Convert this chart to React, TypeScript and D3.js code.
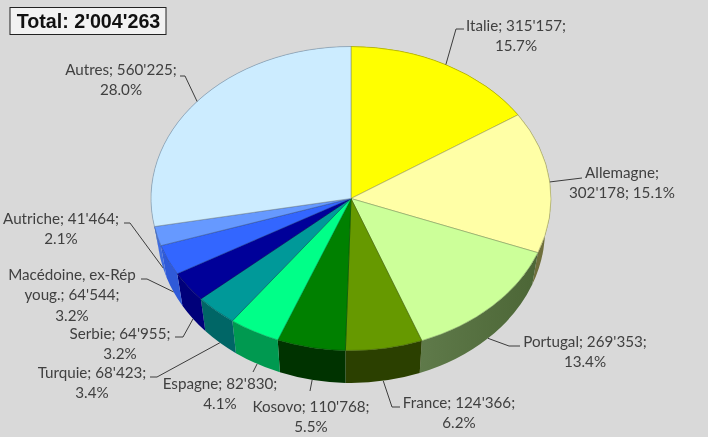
import * as d3 from 'd3';

const countries = ['Italie', 'Allemagne', 'Portugal', 'France', 'Kosovo', 'Espagne', 'Turquie', 'Serbie', 'Macédoine, ex-Rép youg.', 'Autriche', 'Autres'];
const residents = [315157, 302178, 269353, 124366, 110768, 82830, 68423, 64955, 64544, 41464, 560225];
const topColors = ['#ffff00', '#ffffa6', '#ccff99', '#669900', '#008000', '#00ff88', '#009999', '#000099', '#3366ff', '#6699ff', '#ccecff'];
const sideColors = ['#8a8a00', '#6f6f3c', '#55703f', '#2b4000', '#003300', '#009950', '#006666', '#00007a', '#2f5ad8', '#3f6ce0', '#5c7fc0'];
const totalLabel = "Total: 2'004'263";

// line breaks of each data label, as Excel wrapped them
const labelLines = [
  ["Italie; 315'157;", '15.7%'],
  ['Allemagne;', "302'178; 15.1%"],
  ["Portugal; 269'353;", '13.4%'],
  ["France; 124'366;", '6.2%'],
  ["Kosovo; 110'768;", '5.5%'],
  ["Espagne; 82'830;", '4.1%'],
  ["Turquie; 68'423;", '3.4%'],
  ["Serbie; 64'955;", '3.2%'],
  ['Macédoine, ex-Rép', "youg.; 64'544;", '3.2%'],
  ["Autriche; 41'464;", '2.1%'],
  ["Autres; 560'225;", '28.0%'],
];
// label centre x, first baseline y
const labelSpots = [[516, 31], [622, 178], [585, 347], [459, 408], [311, 412], [220, 389], [92, 378], [120, 339], [72, 280], [61, 224], [121, 75]];
// elbow of the leader line and where it ends next to the text
const leaderBends = [[[456, 29], [464, 29]], [[582, 178]], [[509, 346], [520, 346]], [[392, 407], [400, 407]], [[310, 391]], [[253, 372]], [[157, 377], [150, 377]], [[183, 337], [175, 337]], [[147, 279], [141, 279]], [[130, 223], [124, 223]], [[185, 76], [180, 76]]];

const cx = 351;
const cy = 198.5;
const rx = 200;
const ry = 152;
// the bottom ellipse is a bit narrower, the chart has perspective
const bottomCy = 230;
const bottomRx = 194;
const bottomRy = 153;

export default function App() {
  const slices = d3.pie<number>().sort(null).value((d) => d)(residents);
  const ex = (a: number) => cx + rx * Math.sin(a);
  const ey = (a: number) => cy - ry * Math.cos(a);
  const bx = (a: number) => cx + bottomRx * Math.sin(a);
  const by = (a: number) => bottomCy - bottomRy * Math.cos(a);
  const arc = d3.arc<d3.PieArcDatum<number>>().innerRadius(0).outerRadius(rx);

  // whole rim gets drawn, the top face hides the part that should not show
  const sidePath = (s: d3.PieArcDatum<number>) => {
    const a0 = s.startAngle;
    const a1 = s.endAngle;
    return `M${ex(a0)},${ey(a0)}A${rx},${ry} 0 0 1 ${ex(a1)},${ey(a1)}L${bx(a1)},${by(a1)}A${bottomRx},${bottomRy} 0 0 0 ${bx(a0)},${by(a0)}Z`;
  };

  const leaderPoints = (s: d3.PieArcDatum<number>, i: number) => {
    const mid = (s.startAngle + s.endAngle) / 2;
    const onFront = by(mid) > ey(mid) && Math.abs(mid - Math.PI) < Math.PI / 2.2;
    const start = onFront ? [bx(mid), by(mid)] : [ex(mid), ey(mid)];
    return [start, ...leaderBends[i]].map((p) => p.join(',')).join(' ');
  };

  return (
    <svg
      width={708}
      height={437}
      style={{ position: 'absolute', left: 0, top: 0, background: '#d9d9d9', filter: 'blur(0.35px)' }}
    >
      <defs>
        <linearGradient id="portugal-side" x1="0" x2="1" y1="0" y2="0">
          <stop offset="0" stopColor="#5f7a4a" />
          <stop offset="1" stopColor="#4c6636" />
        </linearGradient>
      </defs>

      {slices.map((s, i) => (
        <path key={i} d={sidePath(s)} fill={i === 2 ? 'url(#portugal-side)' : sideColors[i]} />
      ))}

      <g transform={`translate(${cx},${cy}) scale(1,${ry / rx})`}>
        {slices.map((s, i) => (
          <path
            key={i}
            d={arc(s) ?? ''}
            fill={topColors[i]}
            stroke={d3.color(topColors[i])!.darker(1.3).formatHex()}
            strokeWidth={0.6}
            vectorEffect="non-scaling-stroke"
          />
        ))}
      </g>

      {slices.map((s, i) => (
        <polyline key={i} points={leaderPoints(s, i)} fill="none" stroke="#3c3c3c" strokeWidth={1} />
      ))}

      {labelLines.map((lines, i) => (
        <text key={countries[i]} textAnchor="middle" fontFamily="Lato" fontSize={15.2} fill="#404040">
          {lines.map((line, j) => (
            <tspan key={j} x={labelSpots[i][0]} y={labelSpots[i][1] + j * 20.3}>
              {line}
            </tspan>
          ))}
        </text>
      ))}

      <rect x={10} y={7.5} width={156} height={27} fill="#f2f2f2" stroke="#222" strokeWidth={1} />
      <text x={88.5} y={28} textAnchor="middle" fontFamily="Liberation Sans" fontWeight="bold" fontSize={19.7} fill="#111">
        {totalLabel}
      </text>
    </svg>
  );
}
